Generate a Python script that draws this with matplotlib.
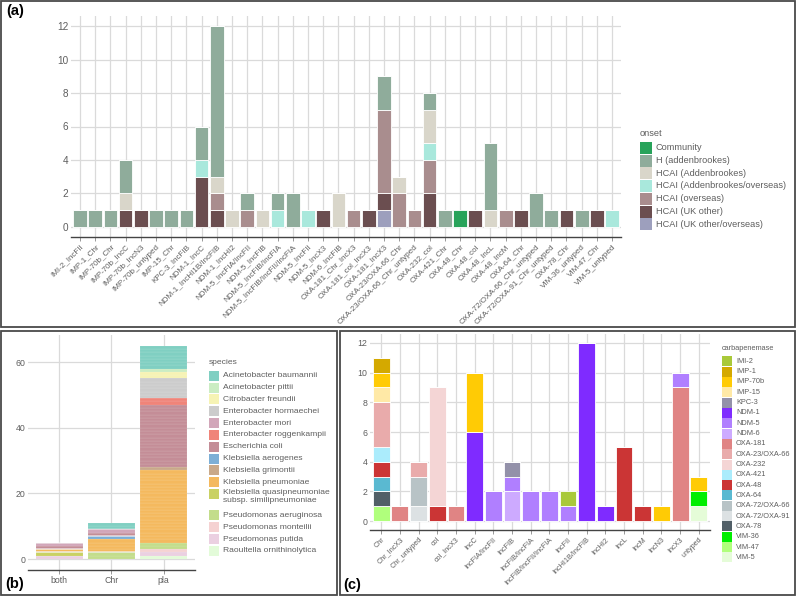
import matplotlib
matplotlib.use('Agg')
import matplotlib.pyplot as plt
from matplotlib.patches import Rectangle
import numpy as np

plt.rcParams['font.family'] = ['Liberation Sans', 'DejaVu Sans']

# ---------------- panel (a): onset per carbapenemase/replicon ----------------
a_labels = [
    'IMI-2_IncFII', 'IMP-1_Chr', 'IMP-70b_Chr', 'IMP-70b_IncC', 'IMP-70b_IncN3',
    'IMP-70b_untyped', 'IMP-15_Chr', 'KPC-3_IncFIB', 'NDM-1_IncC',
    'NDM-1_IncHI1B/IncFIB', 'NDM-1_IncHI2', 'NDM-5_IncFIA/IncFII', 'NDM-5_IncFIB',
    'NDM-5_IncFIB/IncFIA', 'NDM-5_IncFIB/IncFII/IncFIA', 'NDM-5_IncFII',
    'NDM-5_IncX3', 'NDM-6_IncFIB', 'OXA-181_Chr_IncX3', 'OXA-181_col_IncX3',
    'OXA-181_IncX3', 'OXA-23/OXA-66_Chr', 'OXA-23/OXA-66_Chr_untyped',
    'OXA-232_col', 'OXA-421_Chr', 'OXA-48_Chr', 'OXA-48_col', 'OXA-48_IncL',
    'OXA-48_IncM', 'OXA-64_Chr', 'OXA-72/OXA-66_Chr_untyped',
    'OXA-72/OXA-91_Chr_untyped', 'OXA-78_Chr', 'VIM-36_untyped', 'VIM-47_Chr',
    'VIM-5_untyped']

onset_names = ['Community', 'H (addenbrookes)', 'HCAI (Addenbrookes)',
               'HCAI (Addenbrookes/overseas)', 'HCAI (overseas)',
               'HCAI (UK other)', 'HCAI (UK other/overseas)']
onset_colors = ['#27a35a', '#8fac9b', '#d9d6ca', '#a9e8dc', '#a98d8e',
                '#6b4e50', '#9d9fbd']

#                 1  2  3  4  5  6  7  8  9 10 11 12 13 14 15 16 17 18 19 20 21 22 23 24 25 26 27 28 29 30 31 32 33 34 35 36
community     = [0, 0, 0, 0, 0, 0, 0, 0, 0, 0, 0, 0, 0, 0, 0, 0, 0, 0, 0, 0, 0, 0, 0, 0, 0, 1, 0, 0, 0, 0, 0, 0, 0, 0, 0, 0]
h_addenb      = [1, 1, 1, 2, 0, 1, 1, 1, 2, 9, 0, 1, 0, 1, 2, 0, 0, 0, 0, 0, 2, 0, 0, 1, 1, 0, 0, 4, 0, 0, 2, 1, 0, 1, 0, 0]
hcai_addenb   = [0, 0, 0, 1, 0, 0, 0, 0, 0, 1, 1, 0, 1, 0, 0, 0, 0, 2, 0, 0, 0, 1, 0, 2, 0, 0, 0, 1, 0, 0, 0, 0, 0, 0, 0, 0]
hcai_add_ov   = [0, 0, 0, 0, 0, 0, 0, 0, 1, 0, 0, 0, 0, 1, 0, 1, 0, 0, 0, 0, 0, 0, 0, 1, 0, 0, 0, 0, 0, 0, 0, 0, 0, 0, 0, 1]
hcai_overseas = [0, 0, 0, 0, 0, 0, 0, 0, 0, 1, 0, 1, 0, 0, 0, 0, 0, 0, 1, 0, 5, 2, 1, 2, 0, 0, 0, 0, 1, 0, 0, 0, 0, 0, 0, 0]
hcai_uk       = [0, 0, 0, 1, 1, 0, 0, 0, 3, 1, 0, 0, 0, 0, 0, 0, 1, 0, 0, 1, 1, 0, 0, 2, 0, 0, 1, 0, 0, 1, 0, 0, 1, 0, 1, 0]
hcai_uk_ov    = [0, 0, 0, 0, 0, 0, 0, 0, 0, 0, 0, 0, 0, 0, 0, 0, 0, 0, 0, 0, 1, 0, 0, 0, 0, 0, 0, 0, 0, 0, 0, 0, 0, 0, 0, 0]
onset_values = [community, h_addenb, hcai_addenb, hcai_add_ov,
                hcai_overseas, hcai_uk, hcai_uk_ov]

# ---------------- panel (b): species per location ----------------
b_labels = ['both', 'Chr', 'pla']
species_names = ['Acinetobacter baumannii', 'Acinetobacter pittii',
                 'Citrobacter freundii', 'Enterobacter hormaechei',
                 'Enterobacter mori', 'Enterobacter roggenkampii',
                 'Escherichia coli', 'Klebsiella aerogenes',
                 'Klebsiella grimontii', 'Klebsiella pneumoniae',
                 'Klebsiella quasipneumoniae\nsubsp. similipneumoniae',
                 'Pseudomonas aeruginosa', 'Pseudomonas monteilii',
                 'Pseudomonas putida', 'Raoultella ornithinolytica']
species_colors = ['#80cfc2', '#cbedc3', '#f6f3b4', '#cccccc', '#d2a6b9',
                  '#f08479', '#c48d97', '#7dafd6', '#c9a98a', '#f4b95e',
                  '#c9d163', '#c3dd8b', '#f5d2d2', '#ebd0e1', '#e3fbd9']
species_values = [
    [0, 2, 7],    # A. baumannii
    [0, 0, 1],    # A. pittii
    [0, 0, 2],    # C. freundii
    [0, 0, 6],    # E. hormaechei
    [1, 1, 0],    # E. mori
    [0, 0, 2],    # E. roggenkampii
    [1, 1, 19],   # E. coli
    [0, 1, 0],    # K. aerogenes
    [0, 0, 1],    # K. grimontii
    [1, 4, 22],   # K. pneumoniae
    [1, 0, 0],    # K. quasipneumoniae
    [0, 2, 2],    # P. aeruginosa
    [0, 0, 1],    # P. monteilii
    [1, 0, 1],    # P. putida
    [0, 0, 1],    # R. ornithinolytica
]

# ---------------- panel (c): carbapenemase per replicon ----------------
c_labels = ['Chr', 'Chr_IncX3', 'Chr_untyped', 'col', 'col_IncX3', 'IncC',
            'IncFIA/IncFII', 'IncFIB', 'IncFIB/IncFIA', 'IncFIB/IncFII/IncFIA',
            'IncFII', 'IncHI1B/IncFIB', 'IncHI2', 'IncL', 'IncM', 'IncN3',
            'IncX3', 'untyped']
carb_names = ['IMI-2', 'IMP-1', 'IMP-70b', 'IMP-15', 'KPC-3', 'NDM-1', 'NDM-5',
              'NDM-6', 'OXA-181', 'OXA-23/OXA-66', 'OXA-232', 'OXA-421',
              'OXA-48', 'OXA-64', 'OXA-72/OXA-66', 'OXA-72/OXA-91', 'OXA-78',
              'VIM-36', 'VIM-47', 'VIM-5']
carb_colors = ['#a9c93a', '#d4a900', '#ffcb05', '#ffe9a6', '#9391a9',
               '#7f2bff', '#b07fff', '#cdaaff', '#e08484', '#e9abab',
               '#f4d5d5', '#abecfc', '#cb3535', '#5ab9d1', '#b8c3c6',
               '#dce1e3', '#515f67', '#00ee00', '#b0ff7c', '#e5fcd8']
#                Chr CX3 Cun col cX3 IncC FIA/FII FIB FIB/FIA FIB/FII/FIA FII HI1B HI2 L  M  N3 X3 unt
carb_values = [
    [0, 0, 0, 0, 0, 0, 0, 0, 0, 0, 1, 0, 0, 0, 0, 0, 0, 0],   # IMI-2
    [1, 0, 0, 0, 0, 0, 0, 0, 0, 0, 0, 0, 0, 0, 0, 0, 0, 0],   # IMP-1
    [1, 0, 0, 0, 0, 4, 0, 0, 0, 0, 0, 0, 0, 0, 0, 1, 0, 1],   # IMP-70b
    [1, 0, 0, 0, 0, 0, 0, 0, 0, 0, 0, 0, 0, 0, 0, 0, 0, 0],   # IMP-15
    [0, 0, 0, 0, 0, 0, 0, 1, 0, 0, 0, 0, 0, 0, 0, 0, 0, 0],   # KPC-3
    [0, 0, 0, 0, 0, 6, 0, 0, 0, 0, 0, 12, 1, 0, 0, 0, 0, 0],  # NDM-1
    [0, 0, 0, 0, 0, 0, 2, 1, 2, 2, 1, 0, 0, 0, 0, 0, 1, 0],   # NDM-5
    [0, 0, 0, 0, 0, 0, 0, 2, 0, 0, 0, 0, 0, 0, 0, 0, 0, 0],   # NDM-6
    [0, 1, 0, 0, 1, 0, 0, 0, 0, 0, 0, 0, 0, 0, 0, 0, 9, 0],   # OXA-181
    [3, 0, 1, 0, 0, 0, 0, 0, 0, 0, 0, 0, 0, 0, 0, 0, 0, 0],   # OXA-23/OXA-66
    [0, 0, 0, 8, 0, 0, 0, 0, 0, 0, 0, 0, 0, 0, 0, 0, 0, 0],   # OXA-232
    [1, 0, 0, 0, 0, 0, 0, 0, 0, 0, 0, 0, 0, 0, 0, 0, 0, 0],   # OXA-421
    [1, 0, 0, 1, 0, 0, 0, 0, 0, 0, 0, 0, 0, 5, 1, 0, 0, 0],   # OXA-48
    [1, 0, 0, 0, 0, 0, 0, 0, 0, 0, 0, 0, 0, 0, 0, 0, 0, 0],   # OXA-64
    [0, 0, 2, 0, 0, 0, 0, 0, 0, 0, 0, 0, 0, 0, 0, 0, 0, 0],   # OXA-72/OXA-66
    [0, 0, 1, 0, 0, 0, 0, 0, 0, 0, 0, 0, 0, 0, 0, 0, 0, 0],   # OXA-72/OXA-91
    [1, 0, 0, 0, 0, 0, 0, 0, 0, 0, 0, 0, 0, 0, 0, 0, 0, 0],   # OXA-78
    [0, 0, 0, 0, 0, 0, 0, 0, 0, 0, 0, 0, 0, 0, 0, 0, 0, 1],   # VIM-36
    [1, 0, 0, 0, 0, 0, 0, 0, 0, 0, 0, 0, 0, 0, 0, 0, 0, 0],   # VIM-47
    [0, 0, 0, 0, 0, 0, 0, 0, 0, 0, 0, 0, 0, 0, 0, 0, 0, 1],   # VIM-5
]

W, H = 796, 596
TXT = '#5e5e5e'
GRID = '#dadada'
fig = plt.figure(figsize=(W / 100, H / 100), dpi=100)


def px_axes(x0, y0, x1, y1):
    # axes placed by pixel box (top-left origin)
    return fig.add_axes([x0 / W, 1 - y1 / H, (x1 - x0) / W, (y1 - y0) / H])


def style(ax, n, ymax, yticks, tsize):
    ax.set_xlim(0.4, n + 0.6)
    ax.set_ylim(-0.05 * ymax, 1.05 * ymax)
    ax.set_yticks(yticks)
    ax.set_xticks(np.arange(1, n + 1))
    for s in ['left', 'right', 'top']:
        ax.spines[s].set_visible(False)
    ax.spines['bottom'].set_color('#444444')
    ax.spines['bottom'].set_linewidth(1.0)
    ax.grid(True, color=GRID, linewidth=0.9)
    ax.set_axisbelow(True)
    ax.tick_params(axis='y', length=0, pad=2, labelsize=tsize, labelcolor=TXT)
    ax.tick_params(axis='x', length=3, width=0.6, color='#888888', pad=1.5,
                   labelsize=tsize, labelcolor=TXT)


def stacked(ax, names, colors, values, width=0.9, per_unit=False):
    n = len(values[0])
    x = np.arange(1, n + 1)
    bottom = np.zeros(n)
    # first level on top, like ggplot
    for name, col, vals in reversed(list(zip(names, colors, values))):
        vals = np.array(vals, dtype=float)
        if per_unit:
            for k in range(int(vals.max())):
                h = (vals > k).astype(float)
                ax.bar(x, h, width, bottom=bottom + k * h, color=col,
                       edgecolor=(1, 1, 1, 0.22), linewidth=0.3)
        else:
            ax.bar(x, vals, width, bottom=bottom, color=col,
                   edgecolor='white', linewidth=0.6)
        bottom += vals


ov = fig.add_axes([0, 0, 1, 1], zorder=-1)
ov.set_xlim(0, W)
ov.set_ylim(H, 0)
ov.axis('off')


def legend(title, names, colors, x, y, key, step, size):
    ov.text(x, y, title, fontsize=size, color=TXT, va='center', ha='left')
    yy = y + step + 2
    for name, col in zip(names, colors):
        ov.add_patch(Rectangle((x, yy - key / 2), key, key, color=col, lw=0))
        if '\n' in name:
            ov.text(x + key + 4, yy - step * 0.45, name, fontsize=size,
                    color=TXT, va='top', ha='left', linespacing=1.25)
            yy += step * 1.8
        else:
            ov.text(x + key + 4, yy, name, fontsize=size, color=TXT,
                    va='center', ha='left')
            yy += step


# panel borders
for (x0, y0, x1, y1) in [(1, 1, 795, 327), (1, 331, 337, 595), (340, 331, 795, 595)]:
    ov.add_patch(Rectangle((x0, y0), x1 - x0, y1 - y0, fill=False,
                           edgecolor='#4a4a4a', lw=1.3))

ov.text(6, 11, '(a)', fontsize=10.5, fontweight='bold', va='center', ha='left')
ov.text(5, 584, '(b)', fontsize=10.5, fontweight='bold', va='center', ha='left')
ov.text(343, 585, '(c)', fontsize=10.5, fontweight='bold', va='center', ha='left')

# ---- (a)
axa = px_axes(70.9, 16, 621.2, 237)
stacked(axa, onset_names, onset_colors, onset_values)
style(axa, len(a_labels), 12, [0, 2, 4, 6, 8, 10, 12], 7.2)
axa.set_xticklabels(a_labels, rotation=45, ha='right', rotation_mode='anchor',
                    fontsize=5.8)
legend('onset', onset_names, onset_colors, 640, 133, 12, 12.75, 6.6)

# ---- (b)
axb = px_axes(28, 335, 195, 569.7)
stacked(axb, species_names, species_colors, species_values, per_unit=True)
style(axb, len(b_labels), 65, [0, 20, 40, 60], 6.3)
axb.set_xticklabels(b_labels)
legend('species', species_names, species_colors, 209, 362, 10, 11.83, 6.1)

# ---- (c)
axc = px_axes(370, 334, 710, 530)
stacked(axc, carb_names, carb_colors, carb_values)
style(axc, len(c_labels), 12, [0, 2, 4, 6, 8, 10, 12], 6.3)
axc.set_xticklabels(c_labels, rotation=45, ha='right', rotation_mode='anchor',
                    fontsize=5.2)
legend('carbapenemase', carb_names, carb_colors, 722, 349, 10, 10.32, 5.3)

fig.savefig('out.png', dpi=100)
